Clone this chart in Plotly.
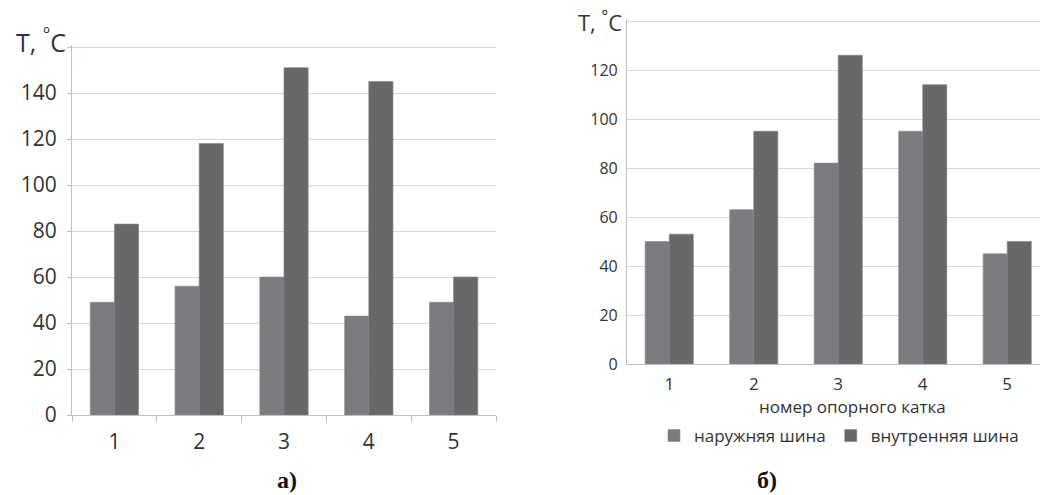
import plotly.graph_objects as go

categories = ["1", "2", "3", "4", "5"]
outer_a = [49, 56, 60, 43, 49]
inner_a = [83, 118, 151, 145, 60]
outer_b = [50, 63, 82, 95, 45]
inner_b = [53, 95, 126, 114, 50]
names = ["наружняя шина", "внутренняя шина"]
ticks_a = [0, 20, 40, 60, 80, 100, 120, 140, 160]
labels_a = ["0", "20", "40", "60", "80", "100", "120", "140", ""]
ticks_b = [0, 20, 40, 60, 80, 100, 120, 140]
labels_b = ["0", "20", "40", "60", "80", "100", "120", ""]
x_title_b = "номер опорного катка"

W, H = 1040, 495
C_LIGHT = "#7b7b7f"
C_DARK = "#68686b"
FONT = "Open Sans"
TXT = "#333333"

def px_x(v):
    return v / W

def px_y(v):
    return (H - v) / H

fig = go.Figure()
fig.add_trace(go.Bar(x=categories, y=outer_a, name=names[0], marker=dict(color=C_LIGHT, line=dict(color="#8c8c90", width=0.6)),
                     xaxis="x", yaxis="y", showlegend=False))
fig.add_trace(go.Bar(x=categories, y=inner_a, name=names[1], marker=dict(color=C_DARK, line=dict(color="#808083", width=0.6)),
                     xaxis="x", yaxis="y", showlegend=False))
fig.add_trace(go.Bar(x=categories, y=outer_b, name=names[0], marker=dict(color=C_LIGHT, line=dict(color="#8c8c90", width=0.6)),
                     xaxis="x2", yaxis="y2"))
fig.add_trace(go.Bar(x=categories, y=inner_b, name=names[1], marker=dict(color=C_DARK, line=dict(color="#808083", width=0.6)),
                     xaxis="x2", yaxis="y2"))

top_a = 161
top_b = 141

fig.update_layout(
    width=W, height=H,
    margin=dict(l=0, r=0, t=0, b=0, autoexpand=False),
    paper_bgcolor="white", plot_bgcolor="white",
    barmode="group", bargap=0.43, bargroupgap=0,
    font=dict(family=FONT, color=TXT),
    xaxis=dict(domain=[px_x(72), px_x(496)], anchor="y", type="category", range=[-0.5, 4.5], automargin=False,
               showline=True, linecolor="#bfbfbf", linewidth=1.2,
               ticks="outside", tickson="boundaries", ticklen=6, tickcolor="#bfbfbf",
               tickfont=dict(size=21, color=TXT), showgrid=False, ticklabelstandoff=8),
    yaxis=dict(domain=[px_y(415), px_y(415 - top_a * 2.3)], anchor="x", range=[0, top_a],
               tickvals=ticks_a, ticktext=labels_a, automargin=False,
               showline=True, linecolor="#bfbfbf", linewidth=1.2,
               ticks="outside", ticklen=4, tickcolor="#bfbfbf",
               gridcolor="#d9d9d9", gridwidth=1.2, zeroline=False,
               tickfont=dict(size=21, color=TXT), ticklabelstandoff=6),
    xaxis2=dict(domain=[px_x(627), 1.0], anchor="y2", type="category", range=[-0.5, 4.388], automargin=False,
                showline=True, linecolor="#bfbfbf", linewidth=1.2, ticks="", showgrid=False,
                tickfont=dict(size=17, color=TXT), ticklabelstandoff=4),
    yaxis2=dict(domain=[px_y(364), px_y(364 - top_b * 2.45)], anchor="x2", range=[0, top_b],
                tickvals=ticks_b, ticktext=labels_b, automargin=False,
                showline=True, linecolor="#bfbfbf", linewidth=1.2, ticks="",
                gridcolor="#d9d9d9", gridwidth=1.2, zeroline=False,
                tickfont=dict(size=16, color=TXT), ticklabelstandoff=5),
    legend=dict(orientation="h", x=px_x(654), y=px_y(436), xanchor="left", yanchor="middle",
                font=dict(size=17, color=TXT), itemwidth=30, bgcolor="rgba(0,0,0,0)",
                traceorder="normal", tracegroupgap=0),
)

fig.add_annotation(text=x_title_b, x=px_x(852), y=px_y(406), xref="paper", yref="paper",
                   showarrow=False, font=dict(size=17, color=TXT), xanchor="center", yanchor="middle")
fig.add_annotation(text="T, <sup>°</sup>C", x=px_x(41), y=px_y(41), xref="paper", yref="paper",
                   showarrow=False, font=dict(size=25, color=TXT), bgcolor="white", xanchor="center", yanchor="middle")
fig.add_annotation(text="T, <sup>°</sup>C", x=px_x(600), y=px_y(21), xref="paper", yref="paper",
                   showarrow=False, font=dict(size=22, color=TXT), bgcolor="white", xanchor="center", yanchor="middle")
fig.add_annotation(text="<b>а)</b>", x=px_x(287), y=px_y(480), xref="paper", yref="paper",
                   showarrow=False, font=dict(size=24, color="#111111", family="Liberation Serif"),
                   xanchor="center", yanchor="middle")
fig.add_annotation(text="<b>б)</b>", x=px_x(767), y=px_y(480), xref="paper", yref="paper",
                   showarrow=False, font=dict(size=24, color="#111111", family="Liberation Serif"),
                   xanchor="center", yanchor="middle")

fig.write_html("out.html", config={"displayModeBar": False},
               post_script="document.body.style.margin='0';document.body.style.overflow='hidden';")
